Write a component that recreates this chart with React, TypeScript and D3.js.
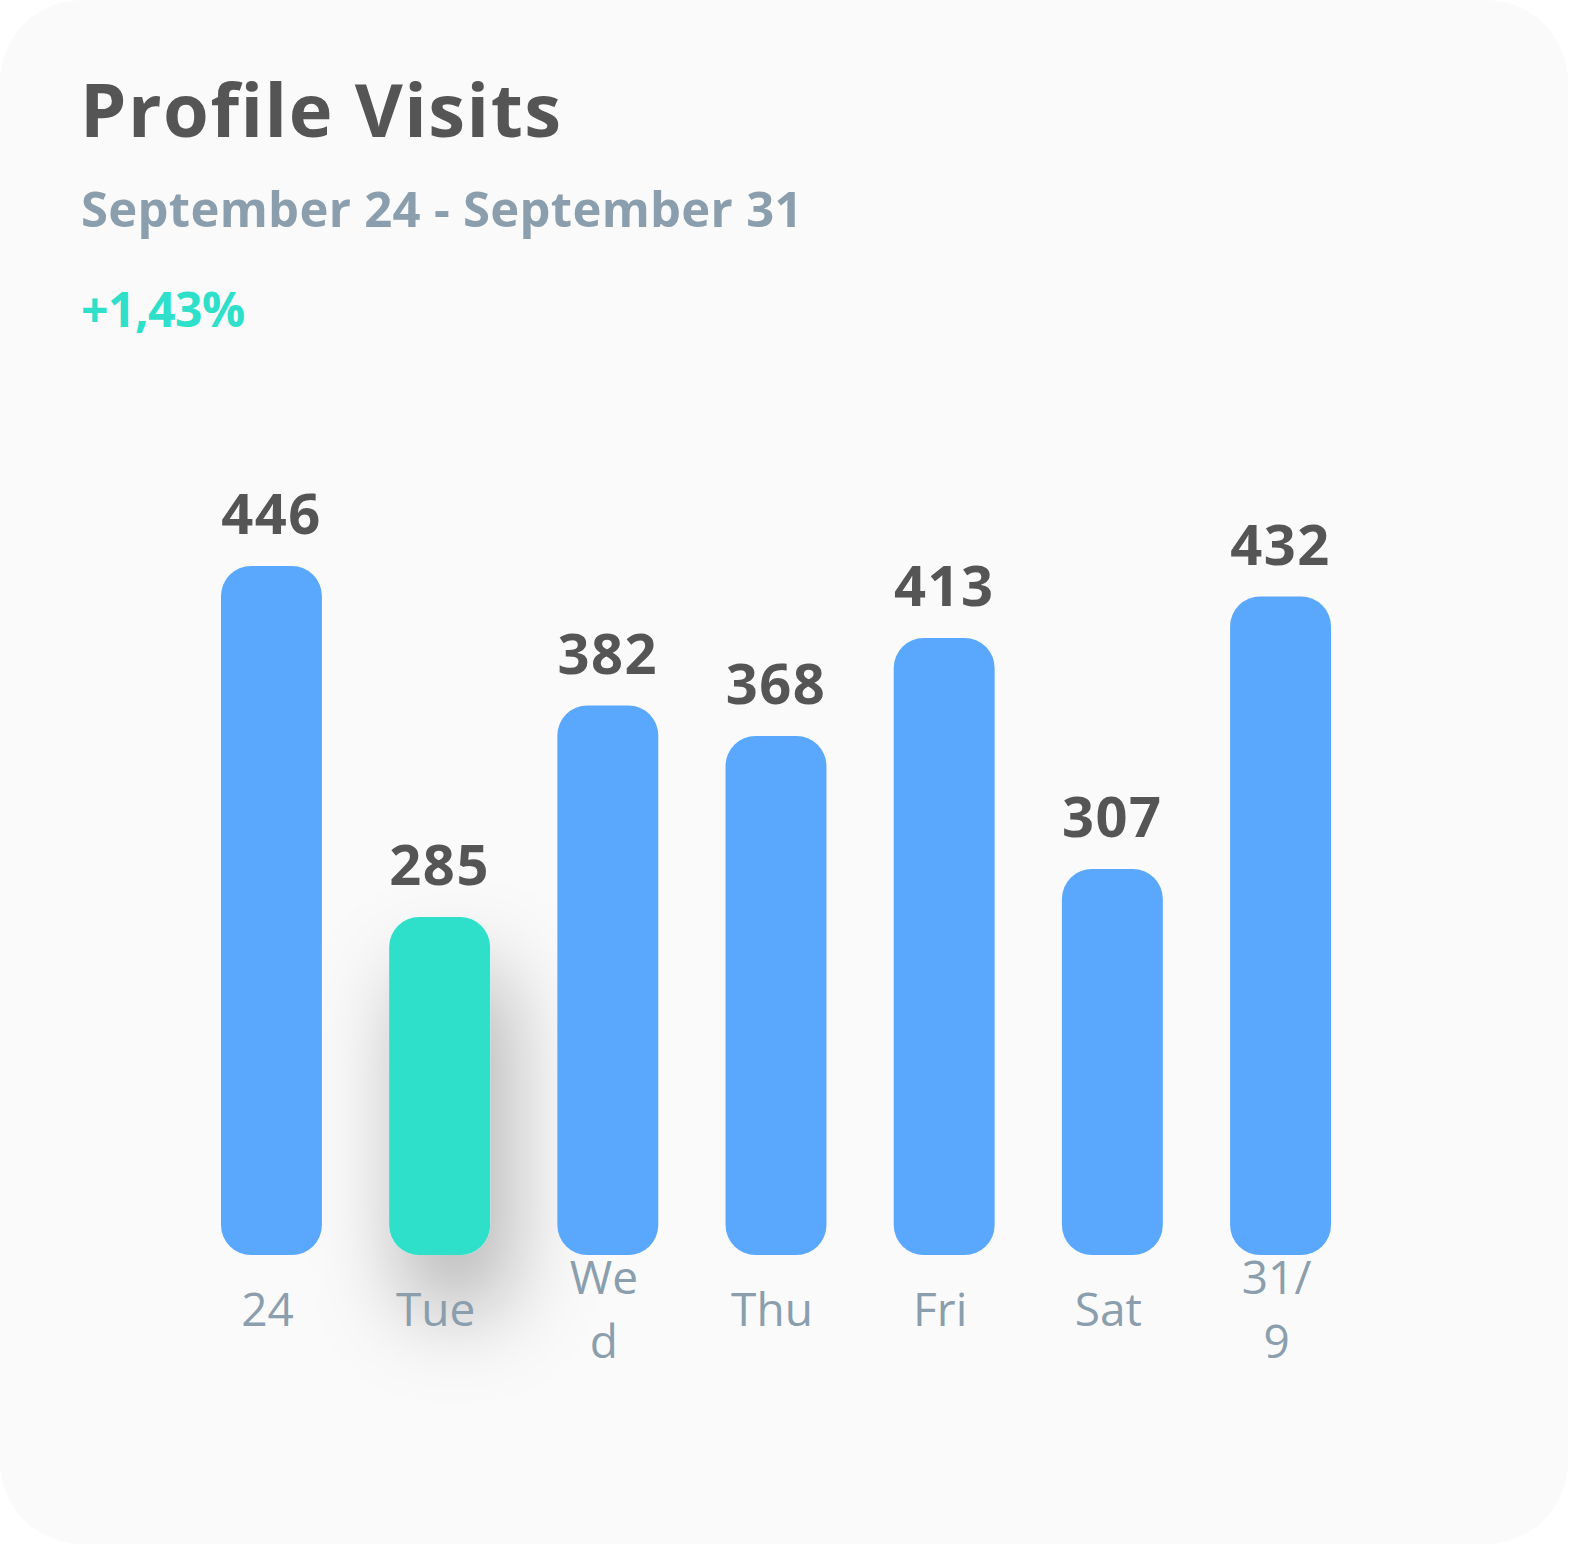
import { useEffect, useRef } from "react";
import * as d3 from "d3";

const days = ["24", "Tue", "Wed", "Thu", "Fri", "Sat", "31/9"];
// how the tick labels wrap in the original
const dayLines = [["24"], ["Tue"], ["We", "d"], ["Thu"], ["Fri"], ["Sat"], ["31/", "9"]];
const visits = [446, 285, 382, 368, 413, 307, 432];
const highlighted = "Tue";

const title = "Profile Visits";
const subtitle = "September 24 - September 31";
const change = "+1,43%";

export default function App() {
  const ref = useRef<SVGSVGElement>(null);

  useEffect(() => {
    const width = 1570;
    const height = 1546;
    const font = "'Open Sans', sans-serif";

    const svg = d3.select(ref.current).attr("width", width).attr("height", height);
    svg.selectAll("*").remove();

    const defs = svg.append("defs");
    const filter = defs
      .append("filter")
      .attr("id", "barShadow")
      .attr("x", "-200%")
      .attr("y", "-60%")
      .attr("width", "500%")
      .attr("height", "220%");
    filter
      .append("feDropShadow")
      .attr("dx", 16)
      .attr("dy", 55)
      .attr("stdDeviation", 44)
      .attr("flood-color", "#000")
      .attr("flood-opacity", 0.3);

    // card
    svg
      .append("rect")
      .attr("x", 0)
      .attr("y", 0)
      .attr("width", 1568)
      .attr("height", 1544)
      .attr("rx", 82)
      .attr("fill", "#fafafa");

    svg
      .append("text")
      .attr("x", 80)
      .attr("y", 137)
      .attr("font-family", font)
      .attr("font-size", 74)
      .attr("font-weight", 700)
      .attr("letter-spacing", 1.5)
      .attr("fill", "#555555")
      .text(title);

    svg
      .append("text")
      .attr("x", 81)
      .attr("y", 227)
      .attr("font-family", font)
      .attr("font-size", 49)
      .attr("font-weight", 700)
      .attr("letter-spacing", 0.3)
      .attr("fill", "#8a9ead")
      .text(subtitle);

    svg
      .append("text")
      .attr("x", 81)
      .attr("y", 327)
      .attr("font-family", font)
      .attr("font-size", 48)
      .attr("font-weight", 700)
      .attr("letter-spacing", -0.5)
      .attr("fill", "#2ee0c9")
      .text(change);

    const x = d3
      .scaleBand()
      .domain(days)
      .range([221, 1331])
      .paddingInner(0.4)
      .paddingOuter(0);

    const y = d3.scaleLinear().domain([130, 446]).range([1255, 566]);

    const data = days.map((d, i) => ({ day: d, value: visits[i], lines: dayLines[i] }));

    const bars = svg.append("g");
    // highlighted bar first so its shadow sits under the neighbours
    const order = [...data].sort((a, b) =>
      a.day === highlighted ? -1 : b.day === highlighted ? 1 : 0
    );

    bars
      .selectAll("rect")
      .data(order)
      .enter()
      .append("rect")
      .attr("x", (d) => x(d.day)!)
      .attr("y", (d) => y(d.value))
      .attr("width", x.bandwidth())
      .attr("height", (d) => y(y.domain()[0]) - y(d.value))
      .attr("rx", 30)
      .attr("fill", (d) => (d.day === highlighted ? "#2ee0c9" : "#5aa8fe"))
      .attr("filter", (d) => (d.day === highlighted ? "url(#barShadow)" : null));

    svg
      .append("g")
      .selectAll("text")
      .data(data)
      .enter()
      .append("text")
      .attr("x", (d) => x(d.day)! + x.bandwidth() / 2)
      .attr("y", (d) => y(d.value) - 32)
      .attr("text-anchor", "middle")
      .attr("font-family", font)
      .attr("font-size", 56)
      .attr("font-weight", 700)
      .attr("letter-spacing", 1.5)
      .attr("fill", "#555555")
      .text((d) => d.value);

    const labels = svg
      .append("g")
      .selectAll("text")
      .data(data)
      .enter()
      .append("text")
      .attr("text-anchor", "middle")
      .attr("font-family", font)
      .attr("font-size", 46)
      .attr("fill", "#8a9ead");

    labels
      .selectAll("tspan")
      .data((d) =>
        d.lines.map((l, j) => ({
          text: l,
          cx: x(d.day)! + x.bandwidth() / 2 - 4,
          cy: 1326 + (j - (d.lines.length - 1) / 2) * 64,
        }))
      )
      .enter()
      .append("tspan")
      .attr("x", (t) => t.cx)
      .attr("y", (t) => t.cy)
      .text((t) => t.text);
  }, []);

  return (
    <svg
      ref={ref}
      style={{ display: "block", position: "absolute", top: 0, left: 0 }}
    />
  );
}
